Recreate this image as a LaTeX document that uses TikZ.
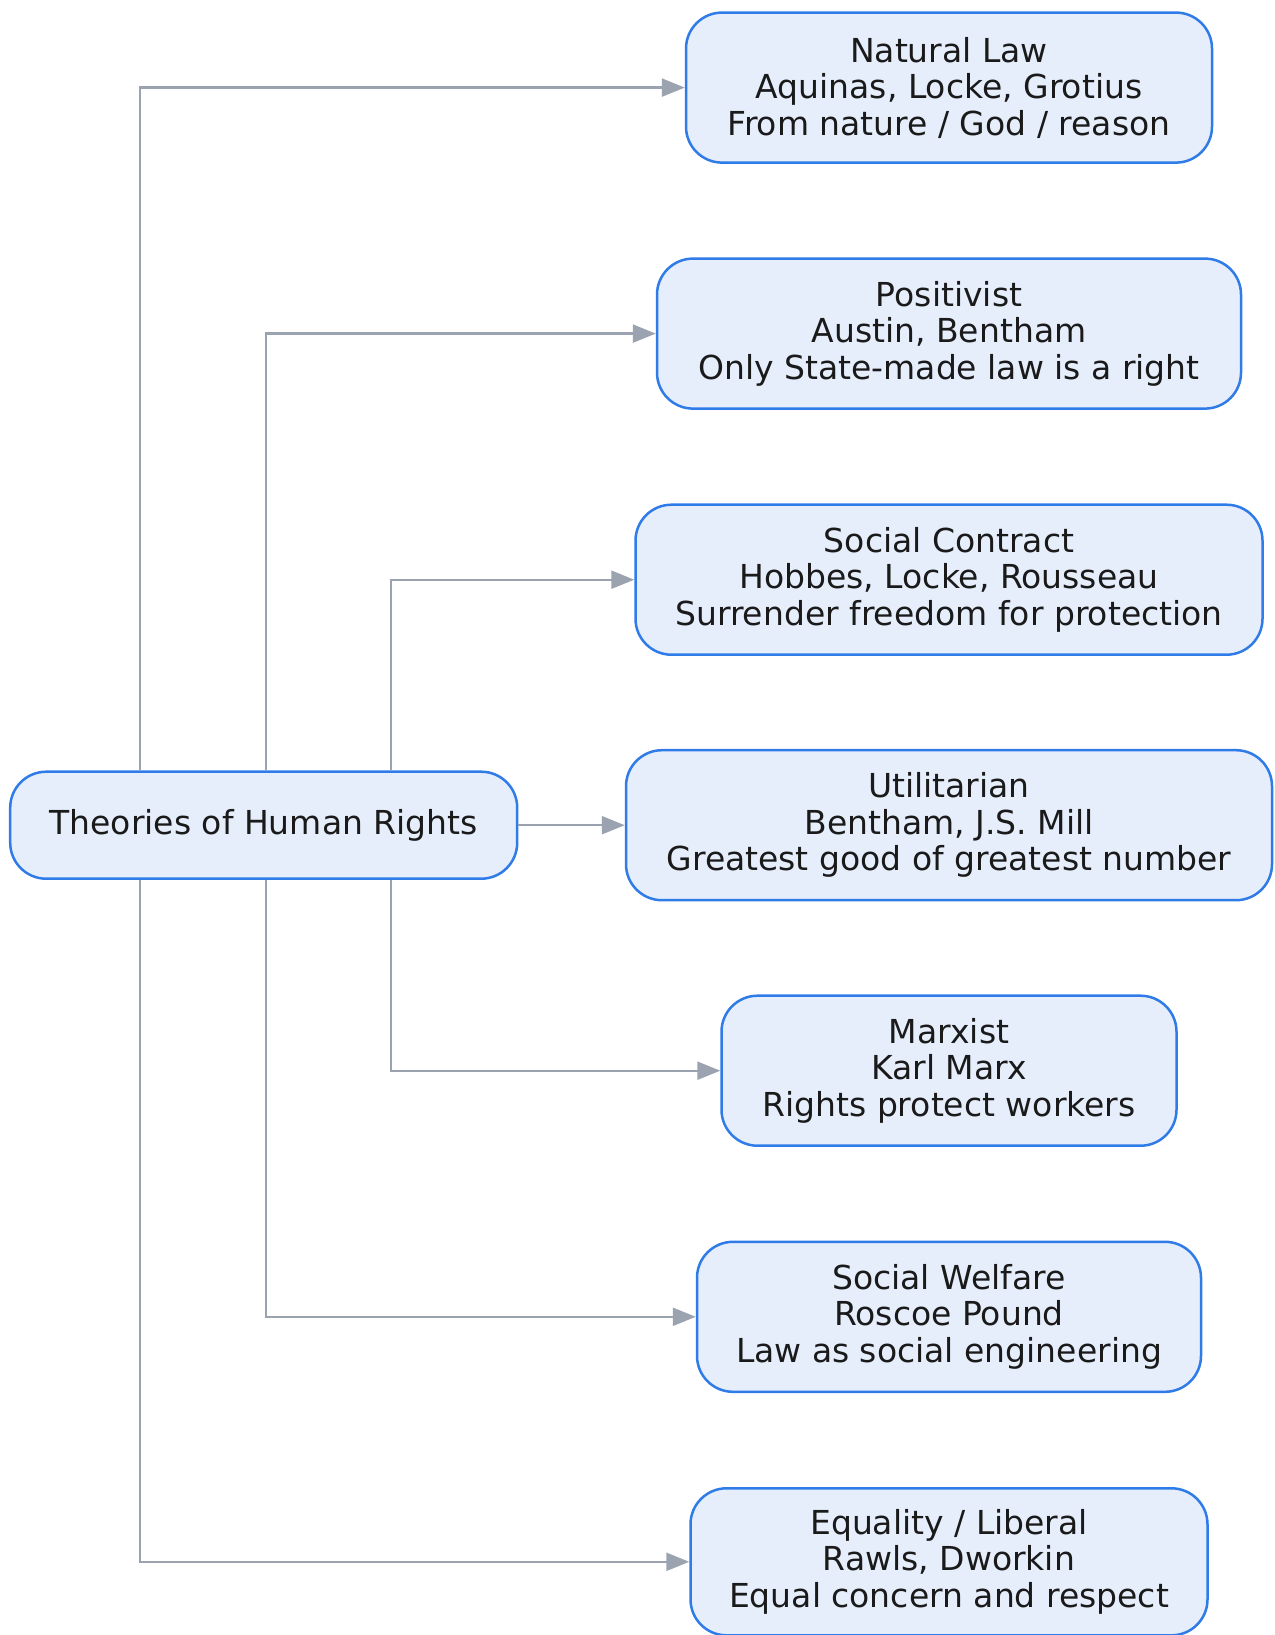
\documentclass[tikz,border=0pt]{standalone}
\usepackage{fontspec}
\setmainfont{DejaVu Sans}
\usetikzlibrary{arrows.meta}
\definecolor{boxfill}{HTML}{E6EEFC}
\definecolor{boxline}{HTML}{2F7BE8}
\definecolor{linkgray}{HTML}{9CA3B0}
\definecolor{inkdark}{HTML}{1A1A1A}
\tikzset{
  theory/.style={draw=boxline, fill=boxfill, line width=2.5pt, rounded corners=36pt,
    align=center, text=inkdark, font=\fontsize{33}{36.5}\selectfont,
    inner sep=0pt, minimum height=150pt},
  link/.style={draw=linkgray, line width=2.4pt,
    -{Triangle[length=23pt,width=18pt]}}
}
\begin{document}
\begin{tikzpicture}[x=1pt,y=-1pt]
\useasboundingbox (0,0) rectangle (1274,1635);
% root node
\node[theory, minimum width=507pt, minimum height=107pt] (root) at (263.7,825.2) {Theories of Human Rights};
% theory nodes
\node[theory, minimum width=526pt] (nat) at (949,87.6) {Natural Law\\Aquinas, Locke, Grotius\\From nature / God / reason};
\node[theory, minimum width=584pt] (pos) at (949,333.6) {Positivist\\Austin, Bentham\\Only State-made law is a right};
\node[theory, minimum width=627pt] (soc) at (949,579.7) {Social Contract\\Hobbes, Locke, Rousseau\\Surrender freedom for protection};
\node[theory, minimum width=646pt] (uti) at (949,825.2) {Utilitarian\\Bentham, J.S. Mill\\Greatest good of greatest number};
\node[theory, minimum width=455pt] (mar) at (949,1070.7) {Marxist\\Karl Marx\\Rights protect workers};
\node[theory, minimum width=504pt] (wel) at (949,1316.8) {Social Welfare\\Roscoe Pound\\Law as social engineering};
\node[theory, minimum width=517pt, minimum height=147pt] (equ) at (949,1561.8) {Equality / Liberal\\Rawls, Dworkin\\Equal concern and respect};
% vertical trunk positions
\coordinate (ta) at (139.7,0);
\coordinate (tb) at (265.9,0);
\coordinate (tc) at (391.0,0);
% connectors
\draw[link] (root.north -| ta) |- (nat.west);
\draw[link] (root.north -| tb) |- (pos.west);
\draw[link] (root.north -| tc) |- (soc.west);
\draw[link] (root.east) -- (uti.west);
\draw[link] (root.south -| tc) |- (mar.west);
\draw[link] (root.south -| tb) |- (wel.west);
\draw[link] (root.south -| ta) |- (equ.west);
\end{tikzpicture}
\end{document}
